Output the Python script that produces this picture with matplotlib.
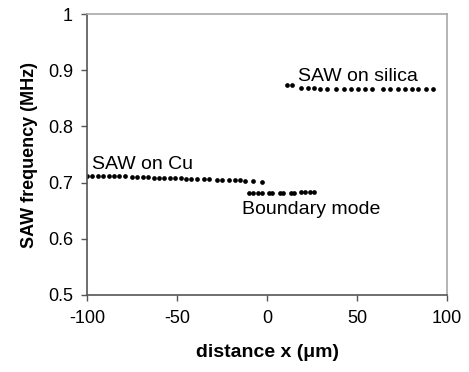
import matplotlib.pyplot as plt

plt.rcParams['font.family'] = ['Liberation Sans', 'DejaVu Sans']

# SAW frequency across the Cu / silica boundary
cu_x = [-100, -97, -94, -91, -88, -85, -82, -79, -75, -72, -69, -66, -63, -60, -57, -54,
        -51, -48, -45, -42, -39, -35, -32, -28, -25, -21, -18, -15, -12, -8, -3]
cu_y = [0.712, 0.712, 0.712, 0.712, 0.712, 0.712, 0.711, 0.711, 0.710, 0.710, 0.710, 0.710,
        0.709, 0.709, 0.709, 0.709, 0.708, 0.708, 0.707, 0.707, 0.707, 0.706, 0.706, 0.705,
        0.705, 0.704, 0.704, 0.704, 0.703, 0.703, 0.702]

boundary_x = [-10, -8, -5, -3, 1, 3, 7, 9, 13, 15, 19, 21, 24, 26]
boundary_y = [0.682, 0.682, 0.682, 0.682, 0.682, 0.682, 0.682, 0.682, 0.682, 0.682,
              0.683, 0.683, 0.683, 0.684]

silica_x = [11, 14, 19, 22.5, 26, 29.5, 33, 38.5, 42.5, 46.5, 50.5, 54.5, 58.5,
            64.5, 68.5, 72.5, 76.5, 80.5, 84, 88, 92]
silica_y = [0.873, 0.873, 0.869, 0.868, 0.868, 0.867, 0.867, 0.867, 0.866, 0.866, 0.866,
            0.866, 0.866, 0.866, 0.866, 0.866, 0.866, 0.866, 0.866, 0.866, 0.866]

fig = plt.figure(figsize=(4.69, 3.72), dpi=100)
ax = fig.add_axes([0.1855, 0.207, 0.768, 0.755])

for xs, ys in [(cu_x, cu_y), (boundary_x, boundary_y), (silica_x, silica_y)]:
    ax.plot(xs, ys, 'o', color='black', markersize=3.4, markeredgewidth=0)

ax.text(-97, 0.724, 'SAW on Cu', fontsize=14, ha='left', va='baseline')
ax.text(-14, 0.644, 'Boundary mode', fontsize=14, ha='left', va='baseline')
ax.text(17, 0.881, 'SAW on silica', fontsize=14, ha='left', va='baseline')

ax.set_xlim(-100, 100)
ax.set_ylim(0.5, 1.0)
ax.set_xticks([-100, -50, 0, 50, 100])
ax.set_xticklabels(['-100', '-50', '0', '50', '100'])
ax.set_yticks([0.5, 0.6, 0.7, 0.8, 0.9, 1.0])
ax.set_yticklabels(['0.5', '0.6', '0.7', '0.8', '0.9', '1'])
ax.tick_params(labelsize=13, length=4, width=1, color='#555555', direction='out')
ax.tick_params(axis='x', pad=7)
ax.tick_params(axis='y', pad=6)

for side in ['left', 'bottom']:
    ax.spines[side].set_color('#555555')
    ax.spines[side].set_linewidth(1.2)
for side in ['top', 'right']:
    ax.spines[side].set_color('#a8a8a8')
    ax.spines[side].set_linewidth(1.2)

ax.set_xlabel('distance x (μm)', fontsize=14, fontweight='bold', labelpad=12)
ax.set_ylabel('SAW frequency (MHz)', fontsize=13, fontweight='bold', labelpad=7)

fig.savefig('out.png', dpi=100)
